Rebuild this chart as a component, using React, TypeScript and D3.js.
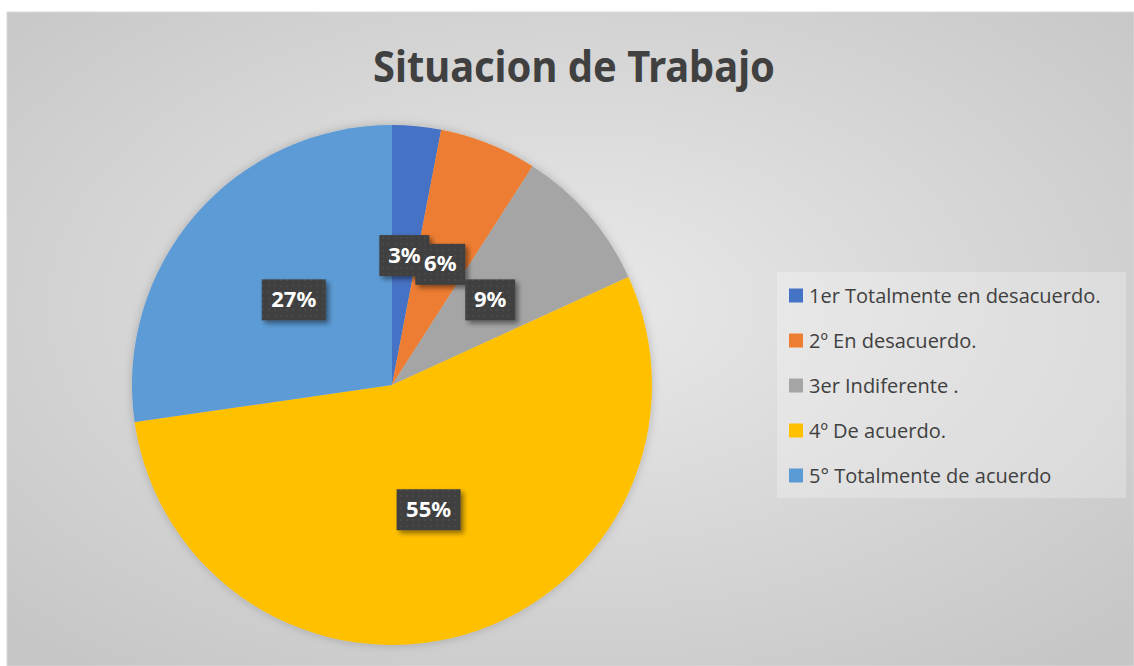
import React from "react";
import * as d3 from "d3";

const categories = [
  "1er Totalmente en desacuerdo.",
  "2º En desacuerdo.",
  "3er Indiferente .",
  "4º De acuerdo.",
  "5° Totalmente de acuerdo",
];
const counts = [1, 2, 3, 18, 9];
const colors = ["#4472C4", "#ED7D31", "#A5A5A5", "#FFC000", "#5B9BD5"];
const title = "Situacion de Trabajo";

const W = 1134;
const H = 666;
const cx = 392;
const cy = 385;
const R = 260;

const App = () => {
  const total = d3.sum(counts);
  const pie = d3.pie<number>().sort(null).value((d) => d);
  const arcs = pie(counts);
  const arc = d3.arc<d3.PieArcDatum<number>>().innerRadius(0).outerRadius(R);
  const labelArc = d3.arc<d3.PieArcDatum<number>>().innerRadius(R * 0.5).outerRadius(R * 0.5);
  const fmt = d3.format(".0%");

  const legendY = d3.scaleBand<number>().domain(d3.range(categories.length)).range([273, 498]);

  const labels = arcs.map((a) => {
    const [lx, ly] = labelArc.centroid(a);
    const txt = fmt(a.data / total);
    return { lx, ly, txt, bw: txt.length === 2 ? 50 : 64, bh: 41 };
  });

  return (
    <svg width={W} height={H} style={{ position: "absolute", left: 0, top: 0 }}>
      <defs>
        <radialGradient id="bg" cx="50%" cy="45%" r="70%">
          <stop offset="0%" stopColor="#e9e9e9" />
          <stop offset="100%" stopColor="#c6c6c6" />
        </radialGradient>
        <pattern id="dots" width="6" height="6" patternUnits="userSpaceOnUse">
          <rect width="6" height="6" fill="#3f3f3f" />
          <circle cx="3" cy="3" r="1.1" fill="#4b4b4b" />
        </pattern>
        <filter id="shadow" x="-20%" y="-20%" width="150%" height="150%">
          <feDropShadow dx="3" dy="3" stdDeviation="2.5" floodColor="#000" floodOpacity="0.45" />
        </filter>
        <filter id="pieShadow" x="-10%" y="-10%" width="120%" height="120%">
          <feDropShadow dx="0" dy="0" stdDeviation="5" floodColor="#000" floodOpacity="0.2" />
        </filter>
      </defs>
      <rect x={0} y={0} width={W} height={H} fill="#ffffff" />
      <rect x={7} y={12} width={W - 7} height={H - 12} fill="url(#bg)" stroke="#d9d9d9" strokeWidth={1} />

      <text
        x={574}
        y={82}
        textAnchor="middle"
        fontFamily="'Noto Sans', 'Open Sans', sans-serif"
        fontWeight={700}
        fontSize={43}
        fill="#404040"
        textLength={402}
        lengthAdjust="spacingAndGlyphs"
      >
        {title}
      </text>

      <g transform={`translate(${cx},${cy})`}>
        <g filter="url(#pieShadow)">
          {arcs.map((a, i) => (
            <path key={i} d={arc(a) || ""} fill={colors[i]} />
          ))}
        </g>
        {labels.map((l, i) => (
          <rect
            key={`b${i}`}
            x={l.lx - l.bw / 2}
            y={l.ly - l.bh / 2}
            width={l.bw}
            height={l.bh}
            fill="url(#dots)"
            filter="url(#shadow)"
          />
        ))}
        {labels.map((l, i) => (
          <text
            key={`t${i}`}
            x={l.lx}
            y={l.ly + 1}
            textAnchor="middle"
            dominantBaseline="middle"
            fontFamily="'Noto Sans', 'Open Sans', sans-serif"
            fontWeight={700}
            fontSize={22}
            fill="#ffffff"
          >
            {l.txt}
          </text>
        ))}
      </g>

      <rect x={777} y={272} width={349} height={226} fill="#ffffff" fillOpacity={0.25} />
      {categories.map((c, i) => {
        const y = (legendY(i) || 0) + legendY.bandwidth() / 2;
        return (
          <g key={i}>
            <rect x={789} y={y - 7} width={14} height={14} fill={colors[i]} />
            <text
              x={809}
              y={y}
              dominantBaseline="central"
              fontFamily="'Open Sans', 'Noto Sans', sans-serif"
              fontSize={20}
              fill="#404040"
            >
              {c}
            </text>
          </g>
        );
      })}
    </svg>
  );
};

export default App;
